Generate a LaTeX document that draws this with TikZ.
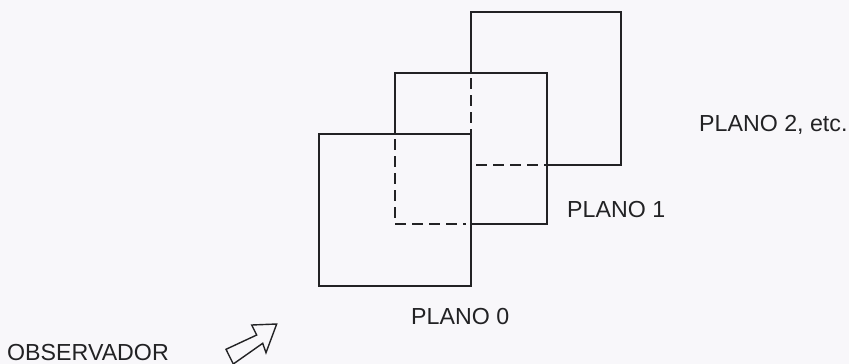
\documentclass[tikz,border=0pt]{standalone}
\usepackage{fontspec}
\setmainfont{Liberation Sans}
\definecolor{bg}{RGB}{248,247,250}
\definecolor{ink}{RGB}{34,34,36}
\begin{document}
\begin{tikzpicture}[x=1pt,y=-1pt,
  solidedge/.style={draw=ink,line width=2.4pt,line cap=rect,line join=miter},
  hiddenedge/.style={draw=ink,line width=2.4pt,dash pattern=on 11pt off 6pt},
  lbl/.style={inner sep=0pt,anchor=base west,text=ink,font=\fontsize{23.2}{28}\selectfont}]
\fill[bg] (0,0) rectangle (849,364);
\useasboundingbox (0,0) rectangle (849,364);
% plane 0 (front)
\draw[solidedge] (319,134) rectangle (471,286);
% plane 1
\draw[solidedge] (395,134) -- (395,73) -- (547,73) -- (547,224) -- (471,224);
\draw[hiddenedge] (395,139) -- (395,224) -- (466,224);
% plane 2
\draw[solidedge] (471,73) -- (471,12) -- (621,12) -- (621,165) -- (547,165);
\draw[hiddenedge] (471,78) -- (471,134);
\draw[hiddenedge] (476,165) -- (547,165);
% labels
\node[lbl] (p0) at (411,324) {PLANO 0};
\node[lbl] (p1) at (567,217) {PLANO 1};
\node[lbl] (p2) at (699,131) {PLANO 2, etc.};
\node[lbl] (obs) at (7,360) {OBSERVADOR};
% observer arrow
\draw[draw=ink,line width=1.4pt,line join=miter]
  (276.7,324) -- (251.7,325) -- (256.7,335) -- (226,349.3) -- (233.3,364)
  -- (262.7,343.3) -- (266,352.7) -- cycle;
\end{tikzpicture}
\end{document}
